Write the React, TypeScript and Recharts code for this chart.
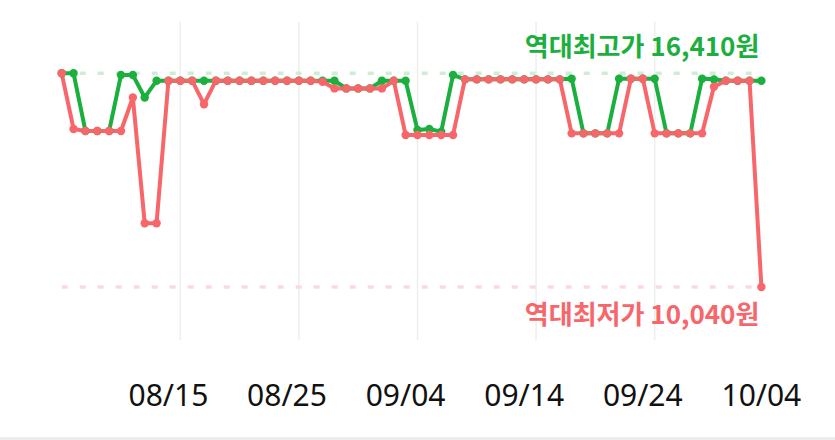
import { CartesianGrid, Line, LineChart, ReferenceLine, XAxis, YAxis } from "recharts";

const GREEN = "#1bb03e";
const RED = "#f7666a";

// one point per day, 08/06 .. 10/04
const dates = [
  "08/06", "08/07", "08/08", "08/09", "08/10", "08/11", "08/12", "08/13", "08/14", "08/15",
  "08/16", "08/17", "08/18", "08/19", "08/20", "08/21", "08/22", "08/23", "08/24", "08/25",
  "08/26", "08/27", "08/28", "08/29", "08/30", "08/31", "09/01", "09/02", "09/03", "09/04",
  "09/05", "09/06", "09/07", "09/08", "09/09", "09/10", "09/11", "09/12", "09/13", "09/14",
  "09/15", "09/16", "09/17", "09/18", "09/19", "09/20", "09/21", "09/22", "09/23", "09/24",
  "09/25", "09/26", "09/27", "09/28", "09/29", "09/30", "10/01", "10/02", "10/03", "10/04",
];

const greenPrices = [
  16410, 16410, 14690, 14690, 14690, 16360, 16360, 15690, 16190, 16190,
  16190, 16190, 16190, 16190, 16190, 16190, 16190, 16190, 16190, 16190,
  16190, 16190, 16190, 16190, 15960, 15960, 15960, 16190, 16190, 16190,
  14720, 14750, 14670, 16360, 16230, 16230, 16230, 16230, 16230, 16230,
  16230, 16230, 16230, 16250, 14620, 14620, 14620, 16250, 16250, 16250,
  16250, 14620, 14620, 14620, 16250, 16230, 16190, 16190, 16190, 16190,
];

const redPrices = [
  16410, 14750, 14690, 14690, 14690, 14690, 15690, 11940, 11940, 16190,
  16190, 16190, 15490, 16190, 16190, 16190, 16190, 16190, 16190, 16190,
  16190, 16190, 16160, 15960, 15960, 15960, 15960, 15960, 16190, 14570,
  14570, 14570, 14570, 14570, 16230, 16230, 16230, 16230, 16230, 16230,
  16230, 16230, 16230, 14620, 14620, 14620, 14620, 14620, 16250, 16250,
  14620, 14620, 14620, 14620, 14620, 16010, 16190, 16190, 16190, 10040,
];

const tickLabels = ["08/15", "08/25", "09/04", "09/14", "09/24", "10/04"];
const gridDates = ["08/16", "08/26", "09/05", "09/15", "09/25"];

const maxPrice = 16410;
const minPrice = 10040;
const maxLabel = "역대최고가 16,410원";
const minLabel = "역대최저가 10,040원";

const data = dates.map((date, i) => ({ date, high: greenPrices[i], low: redPrices[i] }));

function DateTick({ x, payload }: any) {
  return (
    <text x={x} y={406} textAnchor="middle" fill="#111" fontSize={30} fontFamily="'Noto Sans', sans-serif">
      {payload.value}
    </text>
  );
}

function PriceLabel({ viewBox, text, color, dy }: any) {
  return (
    <text
      x={viewBox.x + viewBox.width - 2}
      y={viewBox.y + dy}
      textAnchor="end"
      dominantBaseline="central"
      fill={color}
      fontSize={26}
      fontWeight={600}
      fontFamily="'Noto Sans CJK KR', sans-serif"
    >
      {text}
    </text>
  );
}

export default function App() {
  return (
    <div style={{ position: "relative", width: 835, height: 440, background: "#fff" }}>
      <style>{"body{margin:0}"}</style>
      <LineChart width={835} height={440} data={data} margin={{ top: 22, right: 73.6, left: 61.7, bottom: 0 }}>
        <CartesianGrid horizontal={false} vertical={false} />
        <XAxis
          dataKey="date"
          ticks={tickLabels}
          interval={0}
          axisLine={false}
          tickLine={false}
          height={100}
          tick={<DateTick />}
        />
        <YAxis hide width={0} domain={[8460, 17940]} />
        {gridDates.map((d) => (
          <ReferenceLine key={d} x={d} stroke="#eeeeee" strokeWidth={1.5} />
        ))}
        <ReferenceLine
          y={maxPrice}
          stroke="#cdeed5"
          strokeWidth={3.5}
          strokeDasharray="6 12"
          label={<PriceLabel text={maxLabel} color={GREEN} dy={-29} />}
        />
        <ReferenceLine
          y={minPrice}
          stroke="#fbdadc"
          strokeWidth={3.5}
          strokeDasharray="6 12"
          label={<PriceLabel text={minLabel} color={RED} dy={25} />}
        />
        <Line
          dataKey="high"
          stroke={GREEN}
          strokeWidth={4}
          dot={{ r: 4.2, fill: GREEN, stroke: "none" }}
          isAnimationActive={false}
        />
        <Line
          dataKey="low"
          stroke={RED}
          strokeWidth={4}
          dot={{ r: 4.2, fill: RED, stroke: "none" }}
          isAnimationActive={false}
        />
      </LineChart>
      <div style={{ position: "absolute", left: 0, top: 437, width: 835, height: 3, background: "#ededed" }} />
    </div>
  );
}
